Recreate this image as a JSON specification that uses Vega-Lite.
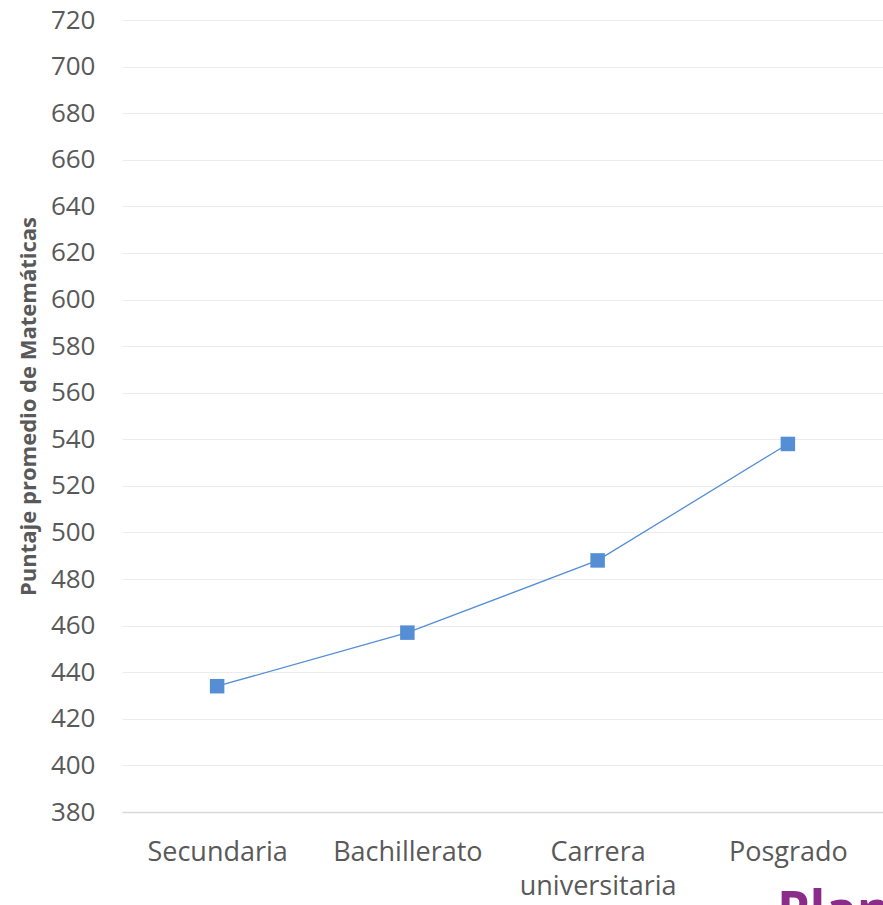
{
  "$schema": "https://vega.github.io/schema/vega-lite/v6.json",
  "autosize": "none",
  "width": 761,
  "height": 792,
  "padding": {"left": 122, "top": 20, "right": 0, "bottom": 93},
  "background": "white",
  "config": {"view": {"stroke": null}, "font": "Open Sans"},
  "title": {
    "text": "Plan",
    "orient": "bottom",
    "anchor": "end",
    "frame": "group",
    "font": "Open Sans",
    "fontSize": 52,
    "fontWeight": "bold",
    "color": "#8b2c8a",
    "baseline": "top",
    "offset": -12,
    "dx": 8
  },
  "data": {
    "values": [
      {"nivel": "Secundaria", "puntaje": 434},
      {"nivel": "Bachillerato", "puntaje": 457},
      {"nivel": "Carrera universitaria", "puntaje": 488},
      {"nivel": "Posgrado", "puntaje": 538}
    ]
  },
  "encoding": {
    "x": {
      "field": "nivel",
      "type": "nominal",
      "sort": null,
      "scale": {"paddingInner": 0, "paddingOuter": 0.5},
      "axis": {
        "title": null,
        "labelAngle": 0,
        "labelFontSize": 27,
        "labelColor": "#595959",
        "labelPadding": 27,
        "labelLineHeight": 34,
        "labelBaseline": "top",
        "labelExpr": "datum.label == 'Carrera universitaria' ? ['Carrera', 'universitaria'] : datum.label",
        "ticks": false,
        "domain": true,
        "domainColor": "#d9d9d9",
        "domainWidth": 1.5,
        "grid": false
      }
    },
    "y": {
      "field": "puntaje",
      "type": "quantitative",
      "scale": {"domain": [380, 720], "nice": false, "zero": false},
      "axis": {
        "values": [380, 400, 420, 440, 460, 480, 500, 520, 540, 560, 580, 600, 620, 640, 660, 680, 700, 720],
        "title": "Puntaje promedio de Matemáticas",
        "titleFontSize": 22,
        "titleFontWeight": "bold",
        "titleColor": "#595959",
        "titlePadding": 10,
        "titleY": 386,
        "labelFontSize": 26,
        "labelColor": "#595959",
        "labelPadding": 27,
        "ticks": false,
        "domain": false,
        "grid": true,
        "gridColor": "#ececec",
        "gridWidth": 1
      }
    }
  },
  "layer": [
    {"mark": {"type": "line", "color": "#558ed5", "strokeWidth": 1.3}},
    {"mark": {"type": "point", "shape": "square", "filled": true, "color": "#558ed5", "opacity": 1, "size": 210}}
  ]
}
